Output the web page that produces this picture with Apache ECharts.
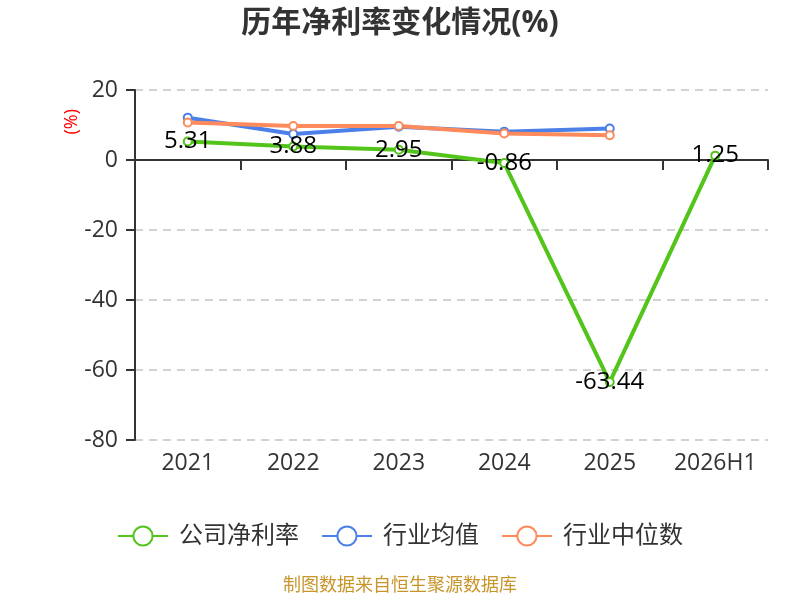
<!DOCTYPE html>
<html>
<head>
<meta charset="utf-8">
<script src="https://cdn.jsdelivr.net/npm/echarts@6/dist/echarts.min.js"></script>
<style>
  html, body { margin: 0; padding: 0; background: #fff; }
  #chart { width: 800px; height: 600px; }
</style>
</head>
<body>
<div id="chart"></div>
<script>
var years = ['2021', '2022', '2023', '2024', '2025', '2026H1'];
var companyRate = [5.31, 3.88, 2.95, -0.86, -63.44, 1.25];
var industryAvg = [12.1, 7.4, 9.5, 8.1, 9.0];
var industryMedian = [10.7, 9.7, 9.7, 7.6, 7.1];

var font = '"Open Sans", "Noto Sans CJK SC", sans-serif';

var myChart = echarts.init(document.getElementById('chart'));
myChart.setOption({
  textStyle: { fontFamily: font },
  title: [
    {
      text: '历年净利率变化情况(%)',
      left: 'center',
      top: 3,
      textStyle: { fontSize: 30, fontWeight: 'bold', color: '#333', fontFamily: font }
    },
    {
      text: '制图数据来自恒生聚源数据库',
      left: 'center',
      bottom: 0,
      textStyle: { fontSize: 18, fontWeight: 'normal', color: '#c9952b', fontFamily: font }
    }
  ],
  graphic: [{
    type: 'text',
    left: 63,
    top: 109,
    rotation: Math.PI / 2,
    style: { text: '(%)', fill: '#ff0000', fontSize: 18, fontFamily: font }
  }],
  legend: {
    bottom: 47,
    left: 'center',
    itemWidth: 50,
    itemHeight: 24,
    itemGap: 22,
    textStyle: { fontSize: 24, color: '#333', fontFamily: font, padding: [0, 0, 0, 6] },
    data: ['公司净利率', '行业均值', '行业中位数']
  },
  grid: { left: 135, right: 32, top: 90, bottom: 160 },
  xAxis: [
    {
      type: 'category',
      data: years,
      boundaryGap: true,
      axisLine: { onZero: true, lineStyle: { color: '#333', width: 2 } },
      axisTick: { show: true, length: 10, lineStyle: { color: '#333', width: 2 } },
      axisLabel: { show: false },
      splitLine: { show: false }
    },
    {
      type: 'category',
      data: years,
      position: 'bottom',
      boundaryGap: true,
      axisLine: { show: false, onZero: false },
      axisTick: { show: false },
      axisLabel: { interval: 0, margin: 12, fontSize: 23, color: '#333', fontFamily: font },
      splitLine: { show: false }
    }
  ],
  yAxis: {
    type: 'value',
    min: -80,
    max: 20,
    interval: 20,
    axisLine: { show: true, lineStyle: { color: '#333', width: 2 } },
    axisTick: { show: true, length: 9, lineStyle: { color: '#333', width: 2 } },
    axisLabel: { fontSize: 23, color: '#333', margin: 17, fontFamily: font },
    splitLine: { show: true, lineStyle: { type: [8, 6], color: '#c4c4c4', width: 1.5 } }
  },
  series: [
    {
      name: '公司净利率',
      type: 'line',
      data: companyRate,
      symbol: 'emptyCircle',
      symbolSize: 8,
      color: '#52c41a',
      lineStyle: { width: 4 },
      z: 3,
      label: {
        show: true,
        position: 'inside',
        fontSize: 24,
        color: '#000',
        fontFamily: font
      }
    },
    {
      name: '行业均值',
      type: 'line',
      data: industryAvg,
      symbol: 'emptyCircle',
      symbolSize: 8,
      color: '#4a80e8',
      lineStyle: { width: 4 },
      z: 2
    },
    {
      name: '行业中位数',
      type: 'line',
      data: industryMedian,
      symbol: 'emptyCircle',
      symbolSize: 8,
      color: '#ff8a5b',
      lineStyle: { width: 4 },
      z: 2
    }
  ]
});
</script>
</body>
</html>
